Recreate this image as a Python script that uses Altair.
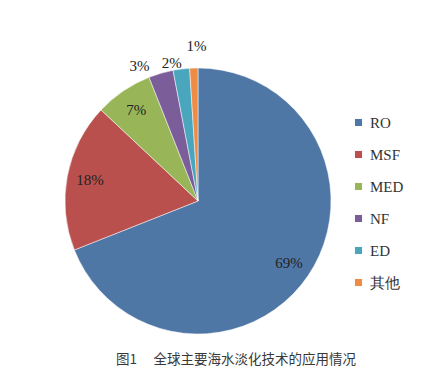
import altair as alt
import pandas as pd

categories = ["RO", "MSF", "MED", "NF", "ED", "其他"]
values = [69, 18, 7, 3, 2, 1]
labels = ["69%", "18%", "7%", "3%", "2%", "1%"]
colors = ["#4F77A6", "#B9504E", "#98B658", "#7B5E99", "#49A6BD", "#EE8B45"]
caption = "图1　 全球主要海水淡化技术的应用情况"

df = pd.DataFrame({"cat": categories, "value": values, "label": labels,
                   "order": list(range(len(categories)))})

SERIF = "Liberation Serif, Times New Roman, serif"
CX, CY, R = 190, 193, 133

base = alt.Chart(df)

pie = base.mark_arc(outerRadius=R, stroke="white", strokeWidth=0.5).encode(
    theta=alt.Theta("value:Q", stack=True),
    order=alt.Order("order:Q"),
    color=alt.Color("cat:N", sort=categories,
                    scale=alt.Scale(domain=categories, range=colors),
                    legend=alt.Legend(title=None, orient="none", legendX=343, legendY=107,
                                      symbolType="square", symbolSize=50, symbolStrokeWidth=0,
                                      labelFont=SERIF, labelFontSize=15,
                                      labelColor="#333", rowPadding=16, labelOffset=4)),
    x=alt.value(CX), y=alt.value(CY),
)

theta_scale = alt.Scale(domain=[0, 100], range=[0, 6.283185307])

stacked = base.transform_window(
    cum="sum(value)", sort=[alt.SortField("order")]
).transform_calculate(mid="datum.cum - datum.value / 2")


def label_layer(flt, radius, shift=0.0):
    return stacked.transform_filter(flt).transform_calculate(
        ang=f"datum.mid + ({shift})"
    ).mark_text(font=SERIF, fontSize=15, color="#222").encode(
        theta=alt.Theta("ang:Q", scale=theta_scale),
        radius=alt.value(radius),
        text="label:N",
        x=alt.value(CX), y=alt.value(CY),
    )


inner = label_layer("datum.value >= 5", 110)
nf = label_layer("datum.cat == 'NF'", 147, -2.0)
ed = label_layer("datum.cat == 'ED'", 140, -1.0)
other = label_layer("datum.cat == '其他'", 155, 0.35)

cap = alt.Chart(pd.DataFrame({"t": [caption]})).mark_text(
    font="Noto Sans CJK SC", fontSize=13.5, color="#383838"
).encode(text="t:N", x=alt.value(228), y=alt.value(352))

chart = alt.layer(pie, inner, nf, ed, other, cap).properties(
    width=418, height=370, autosize="none", padding=0
).configure_view(stroke=None)

chart.save("out.html", embed_options={"renderer": "svg", "actions": False})
